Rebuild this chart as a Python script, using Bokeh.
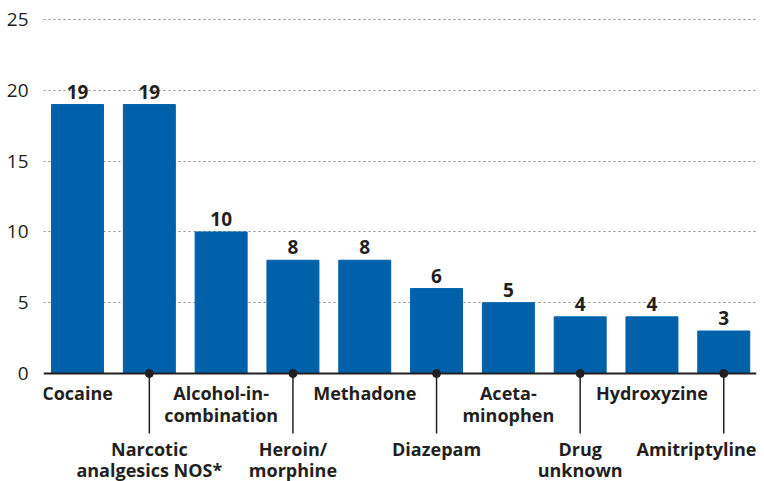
from bokeh.plotting import figure
from bokeh.models import Range1d, FixedTicker, Span, ColumnDataSource
from bokeh.core.properties import value
from bokeh.embed import file_html
from bokeh.resources import INLINE

categories = ["Cocaine", "Narcotic\nanalgesics NOS*", "Alcohol-in-\ncombination", "Heroin/\nmorphine",
              "Methadone", "Diazepam", "Aceta-\nminophen", "Drug\nunknown", "Hydroxyzine", "Amitriptyline"]
values = [19, 19, 10, 8, 8, 6, 5, 4, 4, 3]
y_ticks = [0, 5, 10, 15, 20, 25]

BLUE = "#0061AA"
DARK = "#231f20"
FONT = "Open Sans"

x_start, x_end = -0.474, 9.456
p = figure(width=762, height=481, output_backend="svg", toolbar_location=None,
           x_range=Range1d(x_start, x_end), y_range=Range1d(-7.63, 25.5),
           min_border_left=43, min_border_right=6, min_border_top=12, min_border_bottom=0)
p.outline_line_color = None
p.xaxis.visible = False
p.xgrid.visible = False

ax = p.yaxis[0]
ax.ticker = FixedTicker(ticks=y_ticks)
ax.axis_line_color = None
ax.major_tick_line_color = None
ax.minor_tick_line_color = None
ax.major_label_standoff = 9
ax.major_label_text_font = FONT
ax.major_label_text_font_size = "19px"
ax.major_label_text_color = DARK

p.ygrid.ticker = FixedTicker(ticks=[t for t in y_ticks if t > 0])
p.ygrid.grid_line_color = "#8a8a8a"
p.ygrid.grid_line_dash = "2 3"
p.ygrid.grid_line_width = 1

xs = list(range(len(categories)))
src = ColumnDataSource(dict(x=xs, top=values, lab=[str(v) for v in values]))
p.vbar(x="x", top="top", bottom=0, width=0.724, color=BLUE, source=src)

p.text(x="x", y="top", text="lab", source=src, text_align="center", text_baseline="bottom",
       y_offset=-6, text_font=value(FONT), text_font_style="bold", text_font_size="19px",
       text_color=DARK)

p.add_layout(Span(location=0, dimension="width", line_color=DARK, line_width=2))

# staggered labels
odd = [i for i in xs if i % 2 == 1]
even = [i for i in xs if i % 2 == 0]
p.segment(x0=odd, y0=[0] * len(odd), x1=odd, y1=[-4.24] * len(odd), line_color=DARK, line_width=1.5)
p.scatter(x=odd, y=[0] * len(odd), size=8, color=DARK)

def label_pos(i):
    if i == len(categories) - 1:
        return x_end, "right"
    return i, "center"

for rows, ytop in ((even, -0.56), (odd, -4.47)):
    lx, la, lt = [], [], []
    for i in rows:
        xx, al = label_pos(i)
        lx.append(xx); la.append(al); lt.append(categories[i])
    s = ColumnDataSource(dict(x=lx, y=[ytop] * len(lx), t=lt, a=la))
    p.text(x="x", y="y", text="t", text_align="a", text_baseline="top", source=s,
           text_font=value(FONT), text_font_style="bold", text_font_size="18px",
           text_line_height=0.88, text_color=DARK)

open("out.html", "w").write(file_html(p, INLINE))
